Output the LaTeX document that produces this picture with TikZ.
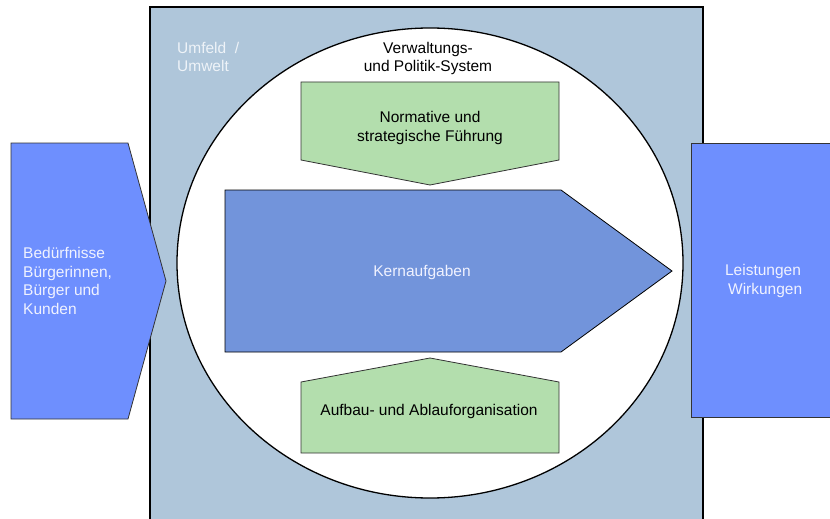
\documentclass[tikz,border=0pt]{standalone}
\usepackage{fontspec}
\setmainfont{Liberation Sans}
\definecolor{envfill}{HTML}{AFC6DA}
\definecolor{sidefill}{HTML}{6E8FFE}
\definecolor{corefill}{HTML}{7294DB}
\definecolor{greenfill}{HTML}{B3DEAD}
\definecolor{lighttext}{HTML}{F0F2FF}
\definecolor{envtext}{HTML}{EEF3F8}
\tikzset{
  sideshape/.style={fill=sidefill, draw=black!80, line width=0.8pt},
  coreshape/.style={fill=corefill, draw=black, line width=0.8pt},
  greenshape/.style={fill=greenfill, draw=black!80, line width=0.8pt},
  lbl/.style={font=\fontsize{15.5}{18.5}\selectfont, inner sep=0pt},
}
\begin{document}
\begin{tikzpicture}[x=1pt,y=-1pt]
\useasboundingbox (0,0) rectangle (830,519);
% environment square
\fill[envfill] (150,7) rectangle (703,519);
\draw[line width=1.5pt] (150,519) -- (150,7) -- (703,7) -- (703,519);
% system ellipse
\draw[fill=white, line width=1.3pt] (430,263) ellipse [x radius=253, y radius=235];
% left input arrow
\draw[sideshape] (11,143) -- (128,143) -- (166,281) -- (128,419) -- (11,419) -- cycle;
% right output box
\draw[sideshape] (691,143) -- (840,143) -- (840,417) -- (691,417) -- cycle;
% core arrow
\draw[coreshape] (225,190) -- (561,190) -- (672,271) -- (561,352) -- (225,352) -- cycle;
% top green pentagon
\draw[greenshape] (301,82) -- (559,82) -- (559,160) -- (430,185) -- (301,160) -- cycle;
% bottom green pentagon
\draw[greenshape] (301,382) -- (430,358) -- (559,382) -- (559,453) -- (301,453) -- cycle;
% texts
\node[lbl, text=envtext, align=left, anchor=north west] (umfeld) at (177,42) {Umfeld \ /\\Umwelt};
\node[lbl, align=center, anchor=north] (system) at (428,42) {Verwaltungs-\\und Politik-System};
\node[lbl, align=center] (fuehrung) at (430,128) {Normative und\\strategische Führung};
\node[lbl, text=lighttext] (kern) at (422,272) {Kernaufgaben};
\node[lbl] (orga) at (429,411) {Aufbau- und Ablauforganisation};
\node[lbl, text=lighttext, align=left, anchor=west] (beduerf) at (23,281) {Bedürfnisse\\Bürgerinnen,\\Bürger und\\Kunden};
\node[lbl, text=lighttext, align=center] (leist) at (763,281) {Leistungen\\\ Wirkungen};
\end{tikzpicture}
\end{document}
